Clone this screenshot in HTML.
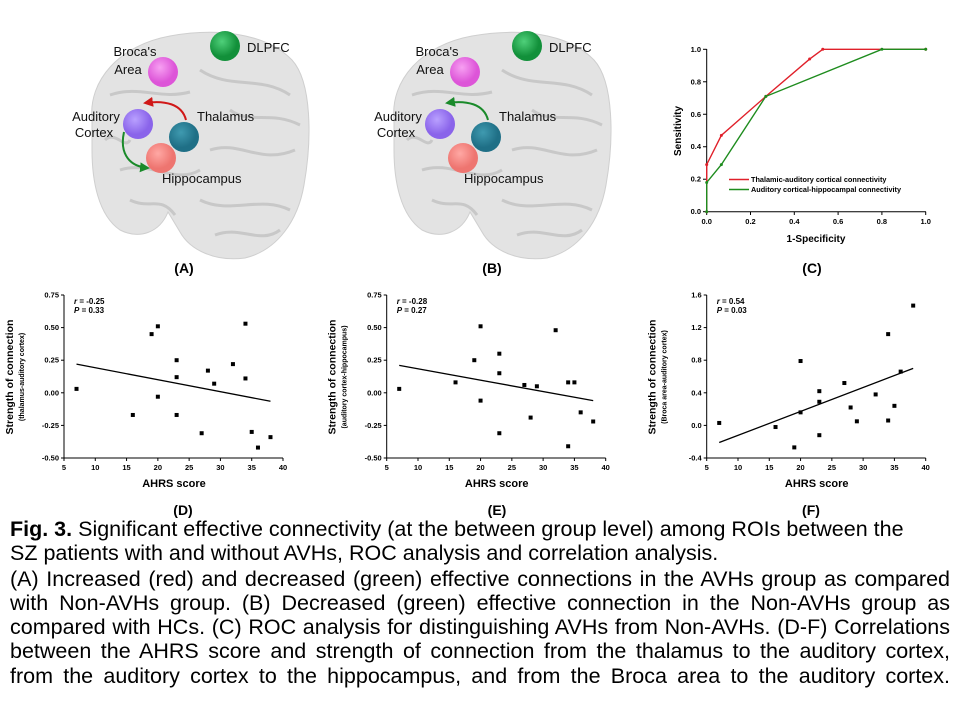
<!DOCTYPE html>
<html><head><meta charset="utf-8"><style>
body{margin:0;background:#fff;width:960px;height:720px;overflow:hidden;font-family:"Liberation Sans",sans-serif}
#fig{position:absolute;left:0;top:0}
.cap{position:absolute;left:10px;width:940px;font-size:21.5px;white-space:nowrap;color:#000;line-height:24px}
.j{text-align:justify;text-align-last:justify;white-space:normal}
</style></head><body>
<svg id="fig" width="960" height="522" xmlns="http://www.w3.org/2000/svg" font-family="Liberation Sans, sans-serif">
<defs>
<radialGradient id="gG" cx="40%" cy="35%"><stop offset="0" stop-color="#4fd07a"/><stop offset="1" stop-color="#12903a"/></radialGradient>
<radialGradient id="gP" cx="40%" cy="35%"><stop offset="0" stop-color="#f7a0f2"/><stop offset="1" stop-color="#dd55d8"/></radialGradient>
<radialGradient id="gV" cx="40%" cy="35%"><stop offset="0" stop-color="#b9a0ff"/><stop offset="1" stop-color="#8a64ea"/></radialGradient>
<radialGradient id="gT" cx="40%" cy="35%"><stop offset="0" stop-color="#3f9ab0"/><stop offset="1" stop-color="#1f6f86"/></radialGradient>
<radialGradient id="gS" cx="40%" cy="35%"><stop offset="0" stop-color="#ffa8a4"/><stop offset="1" stop-color="#ee7570"/></radialGradient>
<marker id="ar" viewBox="0 0 10 10" refX="8" refY="5" markerWidth="5" markerHeight="5" orient="auto"><path d="M0,0L10,5L0,10z" fill="#d01818"/></marker>
<marker id="ag" viewBox="0 0 10 10" refX="8" refY="5" markerWidth="5" markerHeight="5" orient="auto"><path d="M0,0L10,5L0,10z" fill="#1a8a2a"/></marker>
</defs>
<g id="brains"></g>
<g id="roc"></g>
<g id="scat"></g>
<g font-size="14" font-weight="bold">
<text x="184" y="273" text-anchor="middle">(A)</text>
<text x="492" y="273" text-anchor="middle">(B)</text>
<text x="812" y="273" text-anchor="middle">(C)</text>
<text x="183" y="515" text-anchor="middle">(D)</text>
<text x="497" y="515" text-anchor="middle">(E)</text>
<text x="811" y="515" text-anchor="middle">(F)</text>
</g>
</svg>
<div class="cap" style="top:517px"><b>Fig. 3.</b> Significant effective connectivity (at the between group level) among ROIs between the</div>
<div class="cap" style="top:541px">SZ patients with and without AVHs, ROC analysis and correlation analysis.</div>
<div class="cap j" style="top:567px">(A) Increased (red) and decreased (green) effective connections in the AVHs group as compared</div>
<div class="cap j" style="top:591px">with Non-AVHs group. (B) Decreased (green) effective connection in the Non-AVHs group as</div>
<div class="cap j" style="top:615px">compared with HCs. (C) ROC analysis for distinguishing AVHs from Non-AVHs. (D-F) Correlations</div>
<div class="cap j" style="top:639px">between the AHRS score and strength of connection from the thalamus to the auditory cortex,</div>
<div class="cap j" style="top:664px">from the auditory cortex to the hippocampus, and from the Broca area to the auditory cortex.</div>
<script>
// ROC data
const rocRedX=[0,0,0.067,0.27,0.47,0.53,1.0];
const rocRedY=[0,0.29,0.47,0.71,0.94,1.0,1.0];
const rocGreenX=[0,0,0.067,0.27,0.8,1.0];
const rocGreenY=[0,0.18,0.29,0.71,1.0,1.0];
const rocTicks=[0,0.2,0.4,0.6,0.8,1.0];
// Scatter data
const ahrs=[7,16,19,20,20,23,23,23,27,28,29,32,34,34,35,36,38];
const strengthD=[0.03,-0.17,0.45,0.51,-0.03,0.25,0.12,-0.17,-0.31,0.17,0.07,0.22,0.53,0.11,-0.30,-0.42,-0.34];
const ahrsE=[7,16,19,20,20,23,23,23,27,28,29,32,34,34,35,36,38];
const strengthE=[0.03,0.08,0.25,0.51,-0.06,0.30,0.15,-0.31,0.06,-0.19,0.05,0.48,0.08,-0.41,0.08,-0.15,-0.22];
const ahrsF=[7,16,19,20,20,23,23,23,27,28,29,32,34,34,35,36,38];
const strengthF=[0.03,-0.02,-0.27,0.79,0.16,0.42,0.29,-0.12,0.52,0.22,0.05,0.38,1.12,0.06,0.24,0.66,1.47];
const fitD=[0.22,-0.065], fitE=[0.21,-0.06], fitF=[-0.21,0.70];
const xTicks=[5,10,15,20,25,30,35,40];
const yTicksDE=[-0.5,-0.25,0,0.25,0.5,0.75];
const yTickLabDE=["-0.50","-0.25","0.00","0.25","0.50","0.75"];
const yTicksF=[-0.4,0,0.4,0.8,1.2,1.6];
const yTickLabF=["-0.4","0.0","0.4","0.8","1.2","1.6"];

const NS="http://www.w3.org/2000/svg";
function mk(tag,at,parent,txt){const e=document.createElementNS(NS,tag);for(const k in at)e.setAttribute(k,at[k]);if(txt!==undefined)e.textContent=txt;parent.appendChild(e);return e;}

// Brains
const brains=document.getElementById('brains');
function brain(dx,withRed){
  const g=mk('g',{transform:`translate(${dx},0)`},brains);
  
  
  mk('path',{d:'M92,120 C88,80 120,45 170,36 C215,28 265,32 292,60 C312,82 312,140 304,185 C298,220 278,250 245,258 C215,262 190,250 180,232 L168,212 C160,232 140,240 120,230 C98,215 92,180 92,150 Z',fill:'#e3e3e3',stroke:'#cfcfcf','stroke-width':1},g);
  const tex=['M110,95 C140,85 160,100 190,92','M200,70 C230,90 260,75 290,95','M120,170 C150,160 175,185 200,170','M210,150 C240,140 260,165 295,150','M200,200 C230,215 260,195 290,210','M130,200 C150,210 160,195 175,215','M230,110 C250,125 270,110 300,125','M215,235 C240,225 260,245 280,230','M105,140 C115,130 125,150 130,140'];
  tex.forEach(d=>mk('path',{d,fill:'none',stroke:'#c8c8c8','stroke-width':3},g));
  const nodes=[[225,46,'url(#gG)','dlpfc-node'],[163,72,'url(#gP)','broca-node'],[138,124,'url(#gV)','auditory-cortex-node'],[184,137,'url(#gT)','thalamus-node'],[161,158,'url(#gS)','hippocampus-node']];
  if(withRed){
    const p=mk('path',{d:'M186,120 C182,104 165,100 145,103',fill:'none',stroke:'#d01818','stroke-width':2,'marker-end':'url(#ar)'},g);
    
    
    const q=mk('path',{d:'M124,132 C120,150 126,166 148,168',fill:'none',stroke:'#1a8a2a','stroke-width':2,'marker-end':'url(#ag)'},g);
    
    
  } else {
    const q=mk('path',{d:'M186,120 C182,104 165,100 145,103',fill:'none',stroke:'#1a8a2a','stroke-width':2,'marker-end':'url(#ag)'},g);
    
    
  }
  nodes.forEach(n=>{const c=mk('circle',{cx:n[0],cy:n[1],r:15,fill:n[2]},g);
    
    });
  const labs=[[247,52,'start','DLPFC'],[135,56,'middle',"Broca's"],[128,74,'middle','Area'],[96,121,'middle','Auditory'],[94,137,'middle','Cortex'],[197,121,'start','Thalamus'],[162,183,'start','Hippocampus']];
  labs.forEach(l=>{const t=mk('text',{x:l[0],y:l[1],'text-anchor':l[2],'font-size':13,fill:'#111'},g,l[3]);
    
    });
}
brain(0,true); brain(302,false);

// ROC
const roc=document.getElementById('roc');
const rx=v=>706.7+v*219, ry=v=>211.7-v*162.4;
mk('line',{x1:706.7,y1:49,x2:706.7,y2:212,stroke:'#000'},roc);
mk('line',{x1:706.7,y1:211.7,x2:926,y2:211.7,stroke:'#000'},roc);
rocTicks.forEach(t=>{
  mk('line',{x1:rx(t),y1:211.7,x2:rx(t),y2:215,stroke:'#000'},roc);
  mk('line',{x1:703,y1:ry(t),x2:706.7,y2:ry(t),stroke:'#000'},roc);
  const a=mk('text',{x:rx(t),y:224,'text-anchor':'middle','font-size':7.5,'font-weight':'bold'},roc,t.toFixed(1));
  
  
  const b=mk('text',{x:701,y:ry(t)+2.5,'text-anchor':'end','font-size':7.5,'font-weight':'bold'},roc,t.toFixed(1));
  
  
});
function rocLine(X,Y,col,name){
  const pts=X.map((x,i)=>rx(x)+','+ry(Y[i])).join(' ');
  const l=mk('polyline',{points:pts,fill:'none',stroke:col,'stroke-width':1.4},roc);
  
  
  X.forEach((x,i)=>{const c=mk('circle',{cx:rx(x),cy:ry(Y[i]),r:1.5,fill:col},roc);
    
    });
}
rocLine(rocRedX,rocRedY,'#e0202a','roc-thalamic-line');
rocLine(rocGreenX,rocGreenY,'#1e8c1e','roc-auditory-line');
[['#e0202a','Thalamic-auditory cortical connectivity',182],['#1e8c1e','Auditory cortical-hippocampal connectivity',192]].forEach(l=>{
  mk('line',{x1:729,y1:l[2]-2.5,x2:749,y2:l[2]-2.5,stroke:l[0],'stroke-width':1.4},roc);
  const t=mk('text',{x:751,y:l[2],'font-size':7.3,'font-weight':'bold'},roc,l[1]);
  
  
});
let t=mk('text',{x:816,y:242,'text-anchor':'middle','font-size':10,'font-weight':'bold'},roc,'1-Specificity');


t=mk('text',{x:0,y:0,transform:'translate(681,131) rotate(-90)','text-anchor':'middle','font-size':10,'font-weight':'bold'},roc,'Sensitivity');



// Scatter panels
const scat=document.getElementById('scat');
function panel(x0,X,Y,fit,yT,yL,ymin,ymax,r,p,sub,name){
  const g=mk('g',{},scat);
  
  
  const sx=v=>x0+(v-5)*(219/35), sy=v=>458-(v-ymin)/(ymax-ymin)*163;
  mk('line',{x1:x0,y1:295,x2:x0,y2:458,stroke:'#000'},g);
  mk('line',{x1:x0,y1:458,x2:x0+219,y2:458,stroke:'#000'},g);
  xTicks.forEach(v=>{mk('line',{x1:sx(v),y1:458,x2:sx(v),y2:461,stroke:'#000'},g);
    const a=mk('text',{x:sx(v),y:470,'text-anchor':'middle','font-size':7.5,'font-weight':'bold'},g,String(v));
    
    });
  yT.forEach((v,i)=>{mk('line',{x1:x0-3,y1:sy(v),x2:x0,y2:sy(v),stroke:'#000'},g);
    const a=mk('text',{x:x0-5,y:sy(v)+2.5,'text-anchor':'end','font-size':7.5,'font-weight':'bold'},g,yL[i]);
    
    });
  X.forEach((x,i)=>{const s=mk('rect',{x:sx(x)-2,y:sy(Y[i])-2,width:4,height:4,fill:'#000'},g);
    
    });
  const l=mk('line',{x1:sx(7),y1:sy(fit[0]),x2:sx(38),y2:sy(fit[1]),stroke:'#000','stroke-width':1.3},g);
  
  
  let a=mk('text',{x:x0+10,y:304,'font-size':8,'font-weight':'bold'},g);
  mk('tspan',{'font-style':'italic'},a,'r');mk('tspan',{},a,' = '+r);
  
  
  a=mk('text',{x:x0+10,y:313,'font-size':8,'font-weight':'bold'},g);
  mk('tspan',{'font-style':'italic'},a,'P');mk('tspan',{},a,' = '+p);
  
  
  a=mk('text',{x:x0+110,y:487,'text-anchor':'middle','font-size':11,'font-weight':'bold'},g,'AHRS score');
  
  
  a=mk('text',{x:0,y:0,transform:`translate(${x0-51},377) rotate(-90)`,'text-anchor':'middle','font-size':10.5,'font-weight':'bold'},g,'Strength of connection');
  
  
  a=mk('text',{x:0,y:0,transform:`translate(${x0-40},377) rotate(-90)`,'text-anchor':'middle','font-size':7,'font-weight':'bold'},g,sub);
  
  
}
panel(64,ahrs,strengthD,fitD,yTicksDE,yTickLabDE,-0.5,0.75,'-0.25','0.33','(thalamus-auditory cortex)','scatter-d');
panel(386.7,ahrsE,strengthE,fitE,yTicksDE,yTickLabDE,-0.5,0.75,'-0.28','0.27','(auditory cortex-hippocampus)','scatter-e');
panel(706.7,ahrsF,strengthF,fitF,yTicksF,yTickLabF,-0.4,1.6,'0.54','0.03','(Broca area-auditory cortex)','scatter-f');
</script>
</body></html>
